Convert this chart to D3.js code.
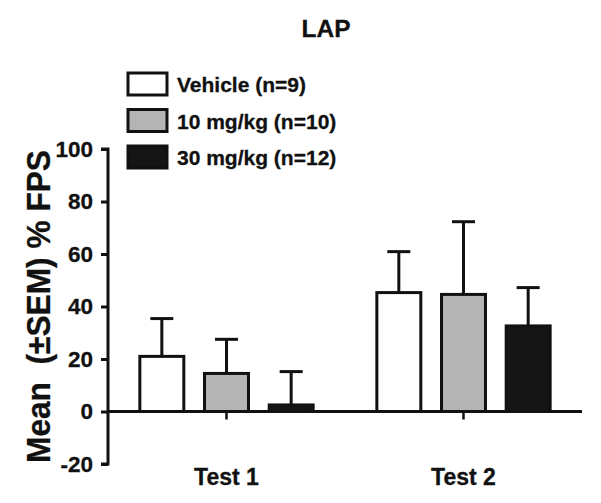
<!DOCTYPE html>
<html><head><meta charset="utf-8">
<script src="https://cdn.jsdelivr.net/npm/d3@7"></script>
<style>body{margin:0;background:#fff}svg{display:block}text{font-family:"Liberation Sans",Arial,sans-serif;font-weight:bold;fill:#111;stroke:#111;stroke-width:0.3px}</style>
</head><body>
<script>
const categories = ["Test 1", "Test 2"];
const series = ["Vehicle (n=9)", "10 mg/kg (n=10)", "30 mg/kg (n=12)"];
const means = [[21.0, 14.5, 2.5], [45.3, 44.6, 32.6]];
const sems = [[14.4, 13.0, 12.7], [15.6, 27.7, 14.6]];
const yTicks = [-20, 0, 20, 40, 60, 80, 100];
const fills = ["#ffffff", "#b4b4b4", "#151515"];
const title = "LAP";
const yLabel = "Mean  (\u00B1SEM) % FPS";

const W = 601, H = 503;
const svg = d3.select("body").append("svg").attr("width", W).attr("height", H);

const x0 = d3.scaleBand().domain(categories).range([108, 582]).padding(0);
const x1 = d3.scaleBand().domain(series).range([21.5, 215.5]).paddingInner(0.32).paddingOuter(0.16);
const y = d3.scaleLinear().domain([-20, 100]).range([464, 149]);

// title
svg.append("text").attr("x", 326).attr("y", 37).attr("text-anchor", "middle")
  .style("font-size", "24.5px").text(title);

// y axis
const yAxis = d3.axisLeft(y).tickValues(yTicks).tickSize(7).tickFormat(d => String(d));
const ga = svg.append("g").attr("transform", "translate(108,0)").call(yAxis);
ga.select(".domain").attr("stroke", "#111").attr("stroke-width", 3).attr("d", `M-7,${y(-20)}H0V${y(100)}H-7`);
ga.selectAll(".tick line").attr("stroke", "#111").attr("stroke-width", 3);
ga.selectAll(".tick text").attr("x", -15).style("font-size", "22.5px").style("font-family", "Liberation Sans, Arial, sans-serif").style("font-weight", "bold").attr("fill", "#111");

// y label
svg.append("text").attr("transform", `translate(50,${(y(100)+y(-20))/2}) rotate(-90)`)
  .attr("text-anchor", "middle").style("font-size", "33px").style("white-space", "pre")
  .attr("textLength", 313).attr("lengthAdjust", "spacingAndGlyphs")
  .text(yLabel);

// bars
categories.forEach((c, ci) => {
  const g = svg.append("g").attr("transform", `translate(${x0(c)},0)`);
  series.forEach((s, si) => {
    const v = means[ci][si], e = sems[ci][si];
    const bx = x1(s), bw = x1.bandwidth(), cx = bx + bw / 2;
    g.append("line").attr("x1", cx).attr("x2", cx).attr("y1", y(v)).attr("y2", y(v + e))
      .attr("stroke", "#111").attr("stroke-width", 3);
    g.append("line").attr("x1", cx - 11.5).attr("x2", cx + 11.5).attr("y1", y(v + e)).attr("y2", y(v + e))
      .attr("stroke", "#111").attr("stroke-width", 3);
    g.append("rect").attr("x", bx).attr("width", bw).attr("y", y(v)).attr("height", y(0) - y(v))
      .attr("fill", fills[si]).attr("stroke", "#111").attr("stroke-width", 3);
  });
  const cxg = x0.bandwidth() / 2;
  g.append("line").attr("x1", cxg).attr("x2", cxg).attr("y1", y(0)).attr("y2", y(0) + 8)
    .attr("stroke", "#111").attr("stroke-width", 2.5);
  g.append("text").attr("x", cxg).attr("y", 485).attr("text-anchor", "middle")
    .style("font-size", "23px").text(c);
});

// baseline
svg.append("line").attr("x1", 108).attr("x2", 582).attr("y1", y(0)).attr("y2", y(0))
  .attr("stroke", "#111").attr("stroke-width", 3);

// legend
const lg = svg.append("g");
series.forEach((s, i) => {
  const ly = 73 + i * 36.5;
  lg.append("rect").attr("x", 128).attr("y", ly).attr("width", 39).attr("height", 22)
    .attr("fill", fills[i]).attr("stroke", "#111").attr("stroke-width", 3);
  lg.append("text").attr("x", 177).attr("y", ly + 19).style("font-size", "21px").text(s);
});
</script>
</body></html>
